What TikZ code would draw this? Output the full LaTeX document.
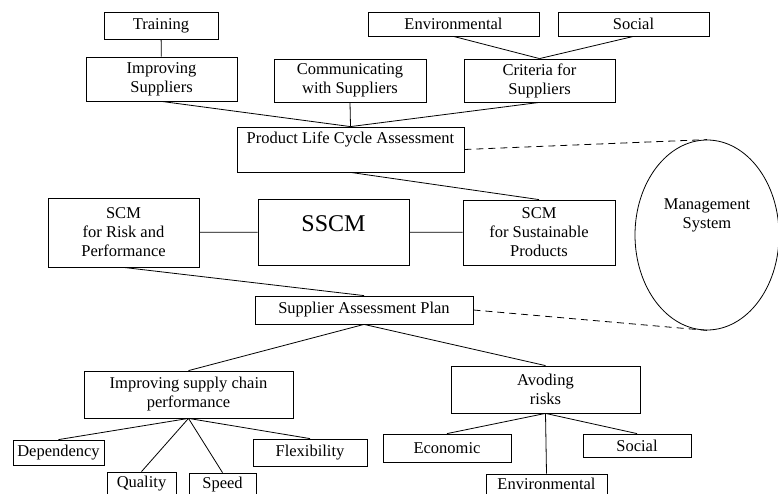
\documentclass[tikz,border=0pt]{standalone}
\usepackage{fontspec}
\setmainfont{Liberation Serif}
\usetikzlibrary{shapes.geometric}

\begin{document}
\begin{tikzpicture}[x=1pt, y=-1pt,
        box/.style={draw, line width=0.8pt, align=center, inner sep=2pt,
            font=\fontsize{16.5}{19}\selectfont},
        cutbox/.style={box, minimum height=28pt, text height=11pt, text depth=8pt},
        link/.style={line width=0.8pt},
        dashlink/.style={line width=0.8pt, dash pattern=on 7pt off 5pt}]
        \clip (0,0) rectangle (778,494);

        % top level
        \node[box, minimum width=114pt, minimum height=27pt] (training) at (161,25.5) {Training};
        \node[box, minimum width=171pt, minimum height=24pt] (envtop) at (453.5,24) {Environmental};
        \node[box, minimum width=151pt, minimum height=24pt] (soctop) at (633.5,24) {Social};

        \node[box, minimum width=151pt, minimum height=44pt] (impsup) at (161.5,79) {Improving\\Suppliers};
        \node[box, minimum width=152pt, minimum height=43pt] (comm) at (350,80.5) {Communicating\\with Suppliers};
        \node[box, minimum width=151pt, minimum height=43pt] (crit) at (539.5,80.5) {Criteria for\\Suppliers};

        \node[box, minimum width=227pt, minimum height=45pt, text height=11pt, text depth=22pt] (plca) at (350.5,149.5) {Product Life Cycle Assessment};

        % middle row
        \node[box, minimum width=151pt, minimum height=69pt] (risk) at (123.5,232.5) {SCM\\for Risk and\\Performance};
        \node[box, minimum width=151pt, minimum height=66pt, text height=17pt, text depth=17pt,
            font=\fontsize{24}{28}\selectfont] (sscm) at (333.5,232) {SSCM};
        \node[box, minimum width=152pt, minimum height=65pt] (sust) at (539,232.5) {SCM\\for Sustainable\\Products};

        \node[draw, ellipse, line width=0.8pt, minimum width=144pt, minimum height=190pt, inner sep=0pt,
            align=center, text depth=42pt, font=\fontsize{16.5}{19}\selectfont] (mgmt) at (707,235) {Management\\System};

        \node[box, minimum width=218pt, minimum height=28pt] (sap) at (364,310) {Supplier Assessment Plan};

        % lower level
        \node[box, minimum width=209pt, minimum height=47pt] (iscp) at (188.5,394.5) {Improving supply chain\\performance};
        \node[box, minimum width=189pt, minimum height=47pt] (avoid) at (545.5,389.5) {Avoding\\risks};

        \node[box, minimum width=91pt, minimum height=25pt] (dep) at (58.5,452.5) {Dependency};
        \node[cutbox, minimum width=69pt] (qual) at (141.5,486) {Quality};
        \node[cutbox, minimum width=67pt] (speed) at (222.5,487) {Speed};
        \node[box, minimum width=114pt, minimum height=27pt] (flex) at (310,452.5) {Flexibility};

        \node[box, minimum width=128pt, minimum height=28pt] (econ) at (447,448) {Economic};
        \node[cutbox, minimum width=121pt] (envbot) at (546.5,488) {Environmental};
        \node[box, minimum width=108pt, minimum height=23pt] (socbot) at (637,445.5) {Social};

        % connectors
        \draw[link] (training) to (impsup);
        \draw[link] (envtop.south) to (crit.north);
        \draw[link] (soctop.south) to (crit.north);
        \draw[link] (impsup.south) to (plca.north);
        \draw[link] (comm.south) to (plca.north);
        \draw[link] (crit.south) to (plca.north);
        \draw[link] (plca.south) to (sust.north);
        \draw[link] (risk) to (sscm);
        \draw[link] (sscm) to (sust);
        \draw[link] (risk.south) to (sap.north);
        \draw[link] (sap.south) to (iscp.north);
        \draw[link] (sap.south) to (avoid.north);
        \draw[link] (iscp.south) to (dep.north);
        \draw[link] (iscp.south) to (qual.north);
        \draw[link] (iscp.south) to (speed.north);
        \draw[link] (iscp.south) to (flex.north);
        \draw[link] (avoid.south) to (econ.north);
        \draw[link] (avoid.south) to (envbot.north);
        \draw[link] (avoid.south) to (socbot.north);
        \draw[dashlink] (plca.east) to (mgmt.north);
        \draw[dashlink] (sap.east) to (mgmt.south);

    \end{tikzpicture}
\end{document}
